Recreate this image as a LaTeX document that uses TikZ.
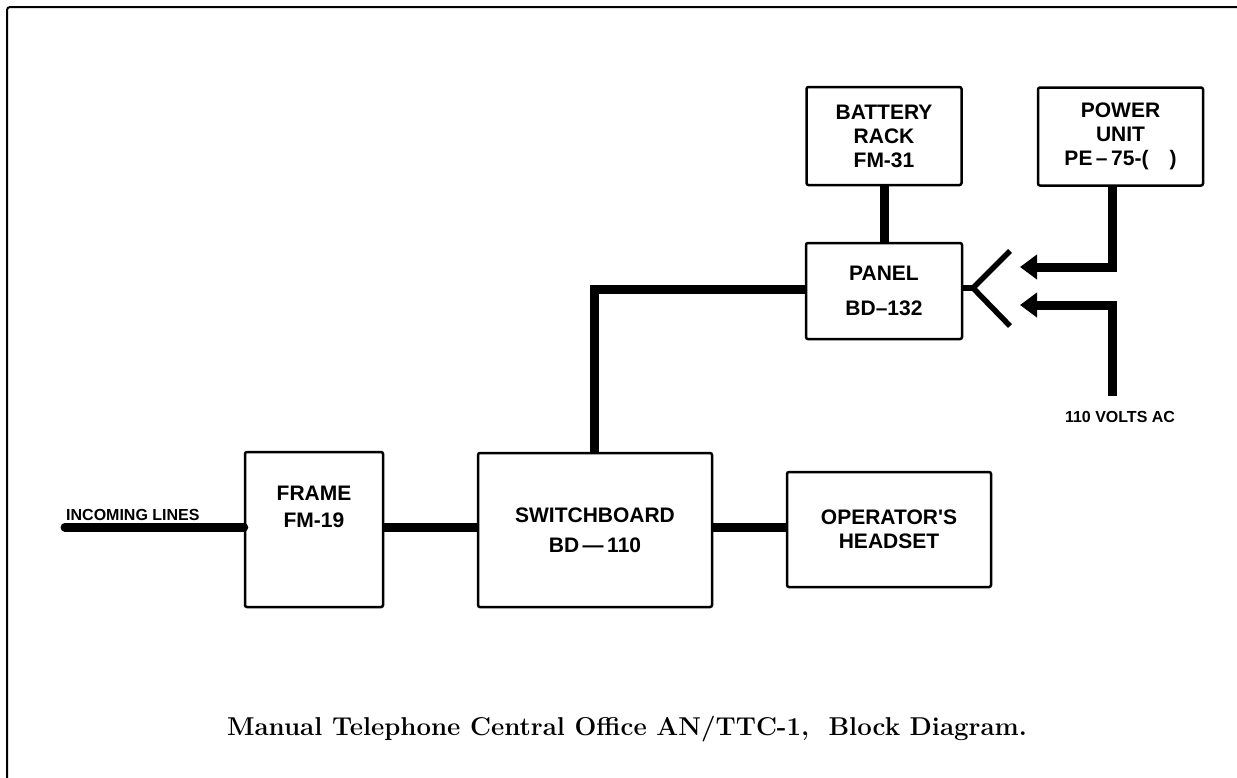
\documentclass[tikz,border=0pt]{standalone}
\usepackage{fontspec}
\usetikzlibrary{arrows.meta}
\newfontfamily\labfont{Liberation Sans}
\begin{document}
\begin{tikzpicture}[x=1pt,y=-1pt,
  box/.style={draw, line width=2.5pt, rounded corners=2pt, inner sep=0pt, align=center,
    font=\labfont\bfseries\fontsize{21}{27}\selectfont},
  conn/.style={line width=9pt, line join=miter},
  yconn/.style={line width=5.5pt},
  arr/.style={conn, -{Triangle[length=17pt,width=24pt]}},
  small/.style={font=\labfont\bfseries\fontsize{16}{18}\selectfont, inner sep=0pt}
]
\useasboundingbox (0,0) rectangle (1237,777);
% outer frame
\draw[line width=2pt, rounded corners=3pt] (7,800) -- (7,7) -- (1260,7);

% boxes
\node[box, minimum width=138pt, minimum height=155pt,
  label={[font=\labfont\bfseries\fontsize{21}{27}\selectfont, align=center, yshift=23pt]center:FRAME\\FM-19}]
  (frame) at (314,529.5) {};
\node[box, minimum width=234pt, minimum height=154pt,
  font=\labfont\bfseries\fontsize{21}{30}\selectfont] (sw) at (595,530) {SWITCHBOARD\\BD\,\textemdash\,110};
\node[box, minimum width=204pt, minimum height=115pt,
  font=\labfont\bfseries\fontsize{21}{23.5}\selectfont] (head) at (889,529.5) {OPERATOR'S\\HEADSET};
\node[box, minimum width=155pt, minimum height=98pt,
  font=\labfont\bfseries\fontsize{21}{24}\selectfont] (batt) at (884,136) {BATTERY\\RACK\\FM-31};
\node[box, minimum width=165pt, minimum height=98pt,
  font=\labfont\bfseries\fontsize{21}{24}\selectfont] (power) at (1120.5,136.5) {POWER\\UNIT\\PE\,\textendash\,75-(\quad)};
\node[box, minimum width=156pt, minimum height=96pt,
  font=\labfont\bfseries\fontsize{21}{35}\selectfont] (panel) at (884,291) {PANEL\\BD\textendash 132};

% labels
\node[small, anchor=base west] (inclab) at (66,520) {INCOMING LINES};
\node[small, anchor=base] (vlab) at (1120,422) {110 VOLTS AC};
\node[font=\bfseries\fontsize{25.8}{30}\selectfont, inner sep=0pt, anchor=base] (cap) at (627,735)
  {Manual Telephone Central Office AN/TTC-1,\ \ Block Diagram.};

% connectors
\coordinate (inc) at (65,527);
\draw[conn, line cap=round] (inc) -- (inc -| frame.west);
\draw[conn] (frame.east |- inc) -- (sw.west |- inc);
\draw[conn] (sw.east |- inc) -- (head.west |- inc);
\draw[conn] ([yshift=2pt]panel.west) -| ([xshift=-1pt]sw.north);
\draw[conn] (batt.south) -- (panel.north);

\coordinate (yj) at (973,288);
\coordinate (ya) at (1010,251);
\coordinate (yb) at (1010,326);
\draw[yconn] (panel.east |- yj) -- (yj);
\draw[yconn] (ya) -- (yj) -- (yb);

\coordinate (a1) at (1020,267);
\coordinate (a2) at (1020,305);
\coordinate (ac) at (1112,396);
\draw[arr] ([xshift=-8.5pt]power.south) |- (a1);
\draw[arr] (ac) |- (a2);
\end{tikzpicture}
\end{document}
